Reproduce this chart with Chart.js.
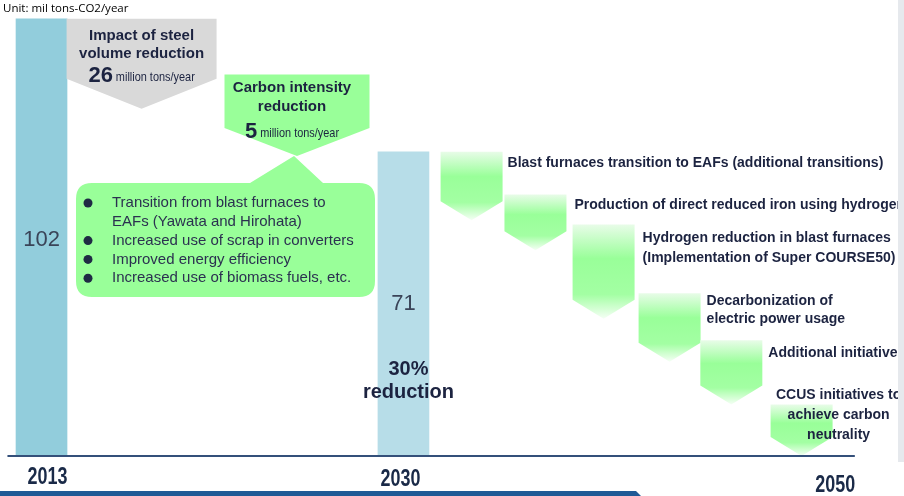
<!DOCTYPE html>
<html>
<head>
<meta charset="utf-8">
<script src="https://cdn.jsdelivr.net/npm/chart.js@4.4.1/dist/chart.umd.min.js"></script>
<style>
  html, body { margin: 0; padding: 0; background: #fff; }
  #wrap { position: relative; width: 904px; height: 496px; }
</style>
</head>
<body>
<div id="wrap"><canvas id="chart"></canvas></div>
<script>
// Values (mil tons-CO2/year); x positions are years
const unitLabel = 'Unit: mil tons-CO2/year';
const yearTicks = [2013, 2030, 2050];
const yearLabels = ['2013', '2030', '2050'];

const emissionYears = [2013, 2030];
const emissions = [102, 71];

const volumeYear = 2017.7;
const volumeRange = [81, 102];
const volumeCut = 26;
const volumeTitle = ['Impact of steel', 'volume reduction'];

const intensityYear = 2025.0;
const intensityRange = [70, 89];
const intensityCut = 5;
const intensityTitle = ['Carbon intensity', 'reduction'];

const cutUnit = 'million tons/year';
const reductionText = ['30%', 'reduction'];

const stepYears = [2033.2, 2036.2, 2039.4, 2042.5, 2045.4, 2048.7];
const stepHigh = [71, 61, 54, 38, 27, 12];
const stepLow = [55, 48, 32, 22, 12, 0];
const stepLabels = [
    ['Blast furnaces transition to EAFs (additional transitions)'],
    ['Production of direct reduced iron using hydrogen'],
    ['Hydrogen reduction in blast furnaces', '(Implementation of Super COURSE50)'],
    ['Decarbonization of', 'electric power usage'],
    ['Additional initiatives'],
    ['CCUS initiatives to', 'achieve carbon', 'neutrality']
];

const bulletLines = [
    ['Transition from blast furnaces to', 'EAFs (Yawata and Hirohata)'],
    ['Increased use of scrap in converters'],
    ['Improved energy efficiency'],
    ['Increased use of biomass fuels, etc.']
];

// baseline runs between these two x values (years)
const axisFrom = 2011.4;
const axisTo = 2051.2;

// label placement next to each step (pixels relative to the step box)
const stepLabelPos = [
    { dx: 5, dy: 11, lh: 20 },
    { dx: 8, dy: 11, lh: 20 },
    { dx: 8, dy: 14, lh: 20 },
    { dx: 6, dy: 8, lh: 17.5 },
    { dx: 6, dy: 13, lh: 20 },
    { center: 37, dy: -9, lh: 20 }
];

const NAVY = '#1c2340';
const SANS = '"Liberation Sans", Arial, sans-serif';
const BOLD = 'bold 14px ' + SANS;

function label(ctx, str, x, y, font, color, align) {
    ctx.font = font;
    ctx.fillStyle = color;
    ctx.textAlign = align || 'left';
    ctx.textBaseline = 'middle';
    ctx.fillText(str, x, y);
}

// condensed text (no narrow face installed, so squeeze horizontally)
function narrow(ctx, str, x, y, font, color, align, sx) {
    ctx.save();
    ctx.translate(x, y);
    ctx.scale(sx, 1);
    label(ctx, str, 0, 0, font, color, align);
    ctx.restore();
}

// value + unit on one centred line ("26 million tons/year")
function cutLabel(ctx, value, cx, y) {
    const big = 'bold 22px ' + SANS;
    const small = '13px ' + SANS;
    const sx = 0.84;
    ctx.font = big;
    const w1 = ctx.measureText(String(value)).width;
    ctx.font = small;
    const w2 = ctx.measureText(cutUnit).width * sx;
    const left = cx - (w1 + 3 + w2) / 2;
    label(ctx, String(value), left, y, big, NAVY);
    narrow(ctx, cutUnit, left + w1 + 3, y + 2, small, NAVY, 'left', sx);
}

function arrowPath(ctx, cx, w, top, bottom, depth) {
    const h = w / 2;
    ctx.beginPath();
    ctx.moveTo(cx - h, top);
    ctx.lineTo(cx + h, top);
    ctx.lineTo(cx + h, bottom - depth);
    ctx.lineTo(cx, bottom);
    ctx.lineTo(cx - h, bottom - depth);
    ctx.closePath();
}

function boxOf(chart, di, i) {
    const p = chart.getDatasetMeta(di).data[i].getProps(['x', 'y', 'base', 'width'], true);
    return { x: p.x, w: p.width, top: Math.min(p.y, p.base), bottom: Math.max(p.y, p.base) };
}

const roadmapPlugin = {
    id: 'roadmap',
    afterDatasetsDraw(chart) {
        const ctx = chart.ctx;
        const xs = chart.scales.x;
        const ys = chart.scales.y;
        ctx.save();

        // arrow shaped bars
        chart.data.datasets.forEach((ds, di) => {
            if (!ds.arrow) return;
            chart.getDatasetMeta(di).data.forEach((el, i) => {
                const b = boxOf(chart, di, i);
                arrowPath(ctx, b.x, b.w, b.top, b.bottom, ds.arrow.depth);
                if (ds.arrow.gradient) {
                    const g = ctx.createLinearGradient(0, b.top, 0, b.bottom);
                    g.addColorStop(0, '#e8fce8');
                    g.addColorStop(0.36, '#99ff99');
                    g.addColorStop(0.74, '#a3ffa3');
                    g.addColorStop(1, '#f6fff6');
                    ctx.fillStyle = g;
                } else {
                    ctx.fillStyle = ds.arrow.fill;
                }
                ctx.fill();
            });
        });

        // callout under the carbon intensity arrow
        const gi = boxOf(chart, 2, 0);
        const apexX = gi.x, apexY = gi.bottom;
        const L = 76, R = 375, T = 183, B = 297, r = 16;
        ctx.fillStyle = '#99ff99';
        ctx.beginPath();
        ctx.moveTo(L + r, T);
        ctx.lineTo(apexX - 47, T);
        ctx.lineTo(apexX - 3, apexY);
        ctx.lineTo(apexX + 26, T);
        ctx.lineTo(R - r, T);
        ctx.quadraticCurveTo(R, T, R, T + r);
        ctx.lineTo(R, B - r);
        ctx.quadraticCurveTo(R, B, R - r, B);
        ctx.lineTo(L + r, B);
        ctx.quadraticCurveTo(L, B, L, B - r);
        ctx.lineTo(L, T + r);
        ctx.quadraticCurveTo(L, T, L + r, T);
        ctx.closePath();
        ctx.fill();

        let ly = 203;
        bulletLines.forEach(lines => {
            ctx.fillStyle = '#1f2a44';
            ctx.beginPath();
            ctx.arc(88, ly, 4.5, 0, Math.PI * 2);
            ctx.fill();
            lines.forEach(t => {
                label(ctx, t, 112, ly, '15px ' + SANS, '#2b3150');
                ly += 18.8;
            });
        });

        // arrow titles
        const gv = boxOf(chart, 1, 0);
        label(ctx, volumeTitle[0], gv.x, gv.top + 17, 'bold 15px ' + SANS, NAVY, 'center');
        label(ctx, volumeTitle[1], gv.x, gv.top + 35, 'bold 15px ' + SANS, NAVY, 'center');
        cutLabel(ctx, volumeCut, gv.x, gv.top + 57);

        label(ctx, intensityTitle[0], gi.x - 5, gi.top + 13, 'bold 15px ' + SANS, NAVY, 'center');
        label(ctx, intensityTitle[1], gi.x - 5, gi.top + 32, 'bold 15px ' + SANS, NAVY, 'center');
        cutLabel(ctx, intensityCut, gi.x - 5, gi.top + 57);

        // bar values
        chart.getDatasetMeta(0).data.forEach((el, i) => {
            const b = boxOf(chart, 0, i);
            label(ctx, String(emissions[i]), b.x, (b.top + b.bottom) / 2 + (i === 0 ? 3 : 0),
                '22px ' + SANS, '#3a4458', 'center');
        });
        const b30 = boxOf(chart, 0, 1);
        label(ctx, reductionText[0], b30.x + 5, 369, 'bold 20px ' + SANS, NAVY, 'center');
        label(ctx, reductionText[1], b30.x + 5, 392, 'bold 20px ' + SANS, NAVY, 'center');

        // step labels
        stepLabels.forEach((lines, i) => {
            const b = boxOf(chart, 3, i);
            const pos = stepLabelPos[i];
            lines.forEach((t, k) => {
                const yy = b.top + pos.dy + k * pos.lh;
                if (pos.center !== undefined) {
                    label(ctx, t, b.x + pos.center, yy, BOLD, NAVY, 'center');
                } else {
                    label(ctx, t, b.x + b.w / 2 + pos.dx, yy, BOLD, NAVY);
                }
            });
        });

        // baseline
        const y0 = Math.round(ys.getPixelForValue(0));
        const xa = xs.getPixelForValue(axisFrom);
        const xb = xs.getPixelForValue(axisTo);
        ctx.fillStyle = '#34507a';
        ctx.fillRect(xa, y0 - 1, xb - xa, 2);

        // year labels
        const yearOff = [[6, 22], [-3, 24], [6, 30]];
        yearTicks.forEach((yr, i) => {
            narrow(ctx, yearLabels[i], xs.getPixelForValue(yr) + yearOff[i][0], y0 + yearOff[i][1],
                'bold 23px ' + SANS, '#1a2a48', 'center', 0.78);
        });

        // unit
        label(ctx, unitLabel, 3, 9, '11.5px "Open Sans", sans-serif', '#000');

        // slide frame: right strip and bottom rule
        ctx.fillStyle = '#e6e9ed';
        ctx.fillRect(898, 0, 6, 462);
        ctx.fillStyle = '#1f5a96';
        ctx.beginPath();
        ctx.moveTo(0, 491);
        ctx.lineTo(636, 491);
        ctx.lineTo(641, 496);
        ctx.lineTo(0, 496);
        ctx.closePath();
        ctx.fill();

        ctx.restore();
    }
};

new Chart(document.getElementById('chart'), {
    type: 'bar',
    data: {
        datasets: [
            {
                label: 'CO2 emissions',
                data: emissionYears.map((x, i) => ({ x, y: emissions[i] })),
                backgroundColor: ['#92cddc', '#b7dde8'],
                barThickness: 51
            },
            {
                label: 'Impact of steel volume reduction',
                data: [{ x: volumeYear, y: volumeRange }],
                backgroundColor: 'rgba(0,0,0,0)',
                barThickness: 150,
                arrow: { depth: 30, fill: '#d9d9d9' }
            },
            {
                label: 'Carbon intensity reduction',
                data: [{ x: intensityYear, y: intensityRange }],
                backgroundColor: 'rgba(0,0,0,0)',
                barThickness: 145,
                arrow: { depth: 28, fill: '#99ff99' }
            },
            {
                label: 'Initiatives toward 2050',
                data: stepYears.map((x, i) => ({ x, y: [stepLow[i], stepHigh[i]] })),
                backgroundColor: 'rgba(0,0,0,0)',
                barThickness: 62,
                arrow: { depth: 19, gradient: true }
            }
        ]
    },
    options: {
        responsive: true,
        maintainAspectRatio: false,
        animation: false,
        layout: { padding: { left: 0, right: 0, top: 0, bottom: 40 } },
        datasets: { bar: { grouped: false } },
        plugins: {
            legend: { display: false },
            tooltip: { enabled: false }
        },
        scales: {
            x: { type: 'linear', display: false, min: 2011.05, max: 2053.51, offset: false },
            y: { display: false, min: 0, max: 106.4 }
        }
    },
    plugins: [roadmapPlugin]
});
</script>
</body>
</html>
